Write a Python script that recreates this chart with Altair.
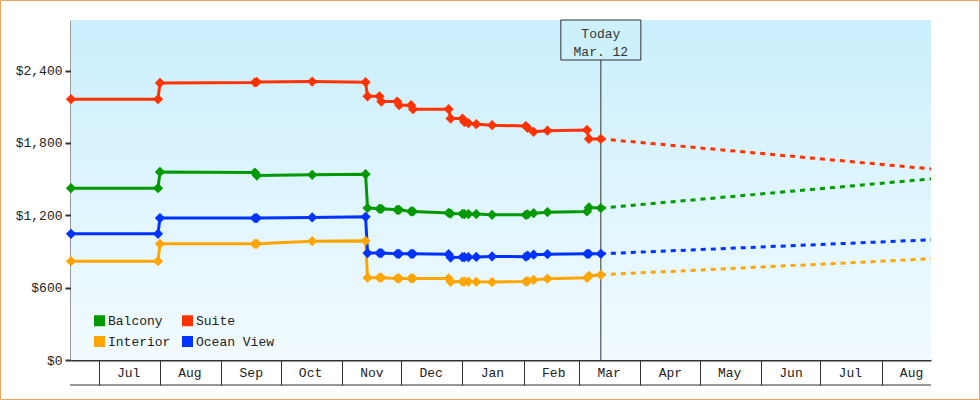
import altair as alt
import pandas as pd

# ---------------- data ----------------
categories = ["Balcony", "Suite", "Interior", "Ocean View"]
colors = ["#009900", "#ff3300", "#ffa500", "#0033ff"]

dates = [
    "2024-06-17", "2024-07-31", "2024-08-01", "2024-09-18", "2024-09-19",
    "2024-10-17", "2024-11-13", "2024-11-14", "2024-11-20", "2024-11-21",
    "2024-11-29", "2024-11-30", "2024-12-06", "2024-12-07", "2024-12-25",
    "2024-12-26", "2025-01-01", "2025-01-02", "2025-01-04", "2025-01-08",
    "2025-01-16", "2025-02-02", "2025-02-03", "2025-02-06", "2025-02-13",
    "2025-03-05", "2025-03-06", "2025-03-12",
]
suite = [2163, 2163, 2298, 2302, 2306, 2309, 2304, 2187, 2187, 2143,
         2143, 2113, 2113, 2080, 2080, 2002, 2002, 1975, 1964, 1956,
         1948, 1940, 1925, 1893, 1902, 1908, 1834, 1834]
balcony = [1425, 1425, 1560, 1555, 1530, 1536, 1541, 1260, 1254, 1254,
           1246, 1246, 1232, 1232, 1220, 1215, 1212, 1210, 1210, 1210,
           1204, 1204, 1208, 1218, 1226, 1232, 1265, 1260]
interior = [820, 820, 964, 964, 964, 985, 988, 683, 683, 683,
            676, 676, 676, 676, 676, 648, 651, 651, 651, 648,
            646, 651, 655, 665, 674, 682, 697, 707]
ocean_view = [1047, 1047, 1177, 1177, 1177, 1182, 1188, 887, 887, 887,
              881, 881, 881, 881, 878, 850, 853, 853, 853, 855,
              859, 857, 865, 873, 878, 881, 881, 881]

forecast_dates = ["2025-03-12", "2025-08-26"]
suite_fc = [1834, 1585]
balcony_fc = [1260, 1502]
interior_fc = [707, 839]
ocean_view_fc = [881, 997]

today = "2025-03-12"
today_text = ["Today", "Mar. 12"]

x_start = (2024, 6, 17)
x_end = (2025, 8, 26)
month_ticks = [(2024, m) for m in range(7, 13)] + [(2025, m) for m in range(1, 9)]
y_ticks = [0, 600, 1200, 1800, 2400]
y_max = 2820

# ---------------- tables ----------------
hist_rows = []
for name, vals in zip(categories, [balcony, suite, interior, ocean_view]):
    for d, v in zip(dates, vals):
        hist_rows.append({"date": d + "T00:00:00", "type": name, "price": v})
hist = pd.DataFrame(hist_rows)

fc_rows = []
for name, vals in zip(categories, [balcony_fc, suite_fc, interior_fc, ocean_view_fc]):
    for d, v in zip(forecast_dates, vals):
        fc_rows.append({"date": d + "T00:00:00", "type": name, "price": v})
fc = pd.DataFrame(fc_rows)

today_df = pd.DataFrame({"date": [today + "T00:00:00"]})

FONT = "Liberation Mono"
INK = "#333333"
TXT = "#222222"
W, H = 860, 340

x_scale = alt.Scale(domain=[alt.DateTime(year=x_start[0], month=x_start[1], date=x_start[2]),
                            alt.DateTime(year=x_end[0], month=x_end[1], date=x_end[2])])
y_scale = alt.Scale(domain=[0, y_max])
color_scale = alt.Scale(domain=categories, range=colors)

x_axis = alt.Axis(
    values=[alt.DateTime(year=y, month=m, date=1) for y, m in month_ticks],
    format="%b", title=None, grid=False,
    tickSize=25, tickWidth=1, tickColor=INK,
    domainColor=INK, domainWidth=2,
    labelFont=FONT, labelFontSize=13, labelColor=TXT,
    labelOffset=29.5, labelPadding=-19, labelBaseline="top",
    labelFlush=False, labelOverlap=False, labelBound=False,
)
y_axis = alt.Axis(
    values=y_ticks, format="$,.0f", title=None, grid=False,
    tickSize=6, tickWidth=2, tickColor=INK,
    domainColor=INK, domainWidth=2,
    labelFont=FONT, labelFontSize=13, labelColor=TXT, labelPadding=3,
)

legend = alt.Legend(
    title=None, orient="none", legendX=22, legendY=294, direction="horizontal",
    columns=2, symbolType="square", symbolSize=121,
    symbolStrokeWidth=0, symbolOpacity=1,
    labelFont=FONT, labelFontSize=13, labelColor=TXT,
    labelOffset=2, columnPadding=10, rowPadding=7, padding=0,
)

X = alt.X("date:T", scale=x_scale, axis=x_axis)
Y = alt.Y("price:Q", scale=y_scale, axis=y_axis)
C = alt.Color("type:N", scale=color_scale, legend=legend)

# background gradient
bg = alt.Chart(alt.Data(values=[{}])).mark_rect(
    fill=alt.Gradient(
        gradient="linear",
        stops=[alt.GradientStop(color="#cbeffd", offset=0),
               alt.GradientStop(color="#f2fbff", offset=1)],
        x1=0, x2=0, y1=0, y2=1,
    )
).encode(x=alt.value(0), x2=alt.value(W), y=alt.value(0), y2=alt.value(H))

today_rule = alt.Chart(today_df).mark_rule(color=INK, strokeWidth=1).encode(
    x=X, y=alt.value(40), y2=alt.value(H),
)

fc_lines = alt.Chart(fc).mark_line(strokeWidth=3, strokeDash=[5, 5]).encode(
    x=X, y=Y, color=C,
)

hist_lines = alt.Chart(hist).mark_line(strokeWidth=3).encode(
    x=X, y=Y, color=C, order="date:T",
)

points = alt.Chart(hist).mark_point(shape="diamond", filled=True, size=105, opacity=1).encode(
    x=X, y=Y, color=C,
)

today_box = alt.Chart(today_df).mark_rect(
    fill="#cdf0fd", stroke=INK, strokeWidth=1, xOffset=-40, x2Offset=40
).encode(
    x=X, x2="date:T", y=alt.value(0), y2=alt.value(40),
)

today_label = alt.Chart(today_df).mark_text(
    font=FONT, fontSize=13, color=INK, baseline="alphabetic", align="center", lineHeight=18
).encode(
    x=X, y=alt.value(17.5), text=alt.value(today_text),
)

bottom_line = alt.Chart(alt.Data(values=[{}])).mark_rule(color=INK, strokeWidth=1).encode(
    x=alt.value(-1), x2=alt.value(W), y=alt.value(365)
)

border = alt.Chart(alt.Data(values=[{}])).mark_rect(
    fillOpacity=0, stroke="#e8a862", strokeWidth=1
).encode(
    x=alt.value(-70.5), x2=alt.value(908.5), y=alt.value(-19.5), y2=alt.value(379.5)
)

chart = alt.layer(
    bg, today_rule, fc_lines, hist_lines, points, today_box, today_label, bottom_line, border
).properties(
    width=W, height=H,
    padding={"left": 71, "top": 20, "right": 49, "bottom": 40},
    autosize=alt.AutoSizeParams(type="none"),
    background="white",
).configure_view(stroke=None)

chart.save("out.html", embed_options={"renderer": "svg", "actions": False})
